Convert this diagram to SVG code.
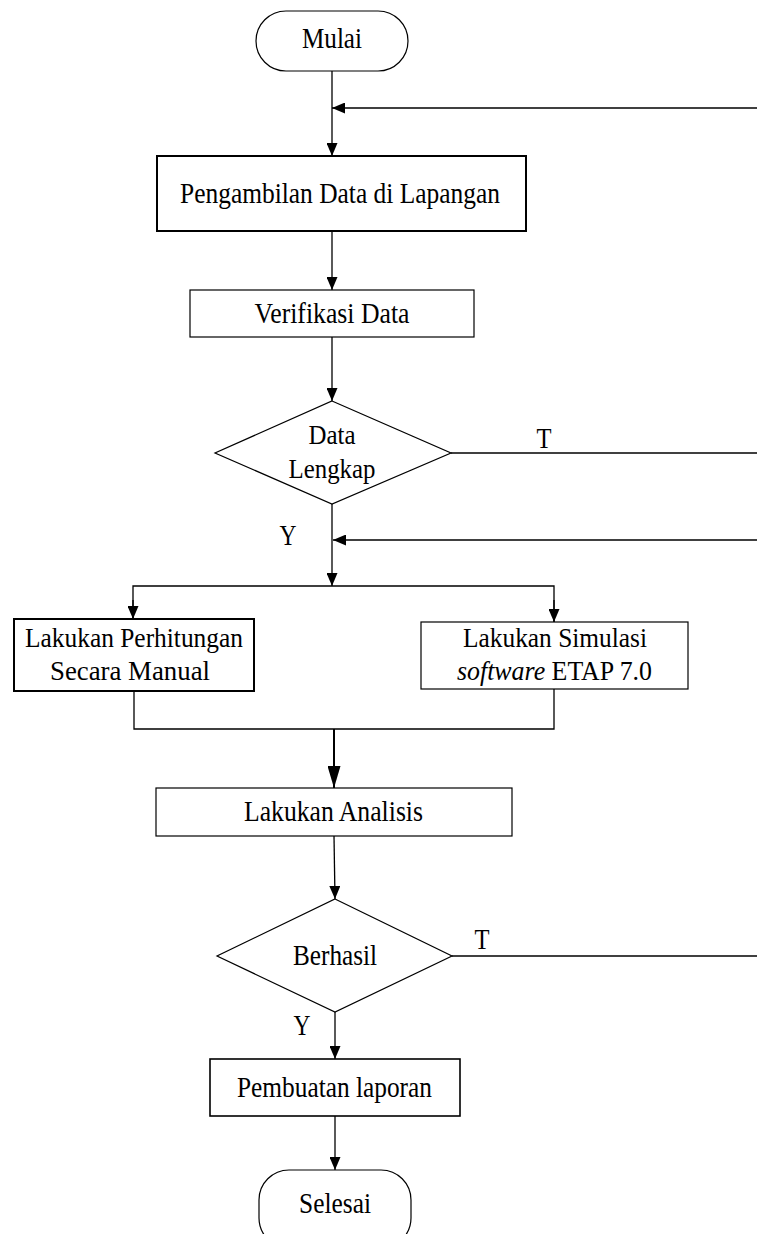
<svg xmlns="http://www.w3.org/2000/svg" width="757" height="1234" viewBox="0 0 757 1234">
<style>
.n{fill:#fff;stroke:#000;stroke-width:1.2}
.b{fill:#fff;stroke:#000;stroke-width:2}
.t{font-family:"Liberation Serif","Times New Roman",serif;font-size:29px;fill:#000;text-anchor:middle}
.s{font-size:28px}
.c{fill:none;stroke:#000;stroke-width:1.3}
.a{marker-end:url(#ar)}
</style>
<defs>
<marker id="ar" markerUnits="userSpaceOnUse" markerWidth="13" markerHeight="11" refX="13" refY="5.5" orient="auto">
<path d="M0,0 L13,5.5 L0,11 z" fill="#000"/>
</marker>
<marker id="ar2" markerUnits="userSpaceOnUse" markerWidth="22" markerHeight="13" refX="22" refY="6.5" orient="auto">
<path d="M0,0 L22,6.5 L0,13 z" fill="#000"/>
</marker>
</defs>
<g id="connectors">
<line class="c a" x1="332" y1="71" x2="332" y2="156"/>
<line class="c a" x1="757" y1="108" x2="332" y2="108"/>
<line class="c a" x1="332" y1="231" x2="332" y2="290"/>
<line class="c a" x1="332" y1="337" x2="332" y2="401"/>
<line class="c" x1="451" y1="453" x2="757" y2="453"/>
<line class="c a" x1="332" y1="504" x2="332" y2="586"/>
<line class="c a" x1="757" y1="540" x2="333" y2="540"/>
<polyline class="c" points="133,619 133,586 554,586 554,622"/>
<line class="c a" x1="133" y1="600" x2="133" y2="619"/>
<line class="c a" x1="554" y1="600" x2="554" y2="622"/>
<polyline class="c" points="134,691 134,729 554,729 554,689"/>
<line x1="334" y1="729" x2="334" y2="788" stroke="#000" stroke-width="2" marker-end="url(#ar2)"/>
<line class="c a" x1="334" y1="836" x2="335" y2="899"/>
<line class="c" x1="452" y1="956" x2="757" y2="956"/>
<line class="c a" x1="335" y1="1012" x2="335" y2="1059"/>
<line class="c a" x1="335" y1="1116" x2="335" y2="1170"/>
<text class="t" x="544" y="448" textLength="15" lengthAdjust="spacingAndGlyphs">T</text>
<text class="t" x="288" y="545" textLength="17" lengthAdjust="spacingAndGlyphs">Y</text>
<text class="t" x="482" y="949" textLength="15" lengthAdjust="spacingAndGlyphs">T</text>
<text class="t" x="302" y="1035" textLength="17" lengthAdjust="spacingAndGlyphs">Y</text>
</g>
<g id="mulai">
<rect class="n" x="256" y="11" width="152" height="60" rx="30"/>
<text class="t" x="332" y="48" textLength="60" lengthAdjust="spacingAndGlyphs">Mulai</text>
</g>
<g id="pengambilan">
<rect class="b" x="157" y="156" width="369" height="75"/>
<text class="t" x="340" y="203" style="font-size:30px" textLength="320" lengthAdjust="spacingAndGlyphs">Pengambilan Data di Lapangan</text>
</g>
<g id="verifikasi">
<rect class="n" x="190" y="290" width="284" height="47"/>
<text class="t" x="332" y="323" textLength="155" lengthAdjust="spacingAndGlyphs">Verifikasi Data</text>
</g>
<g id="data-lengkap">
<polygon class="n" points="332,401 451,453 332,504 215,453"/>
<text class="t s" x="332" y="444" textLength="47" lengthAdjust="spacingAndGlyphs">Data</text>
<text class="t s" x="332" y="478" textLength="87" lengthAdjust="spacingAndGlyphs">Lengkap</text>
</g>
<g id="manual">
<rect class="b" x="14" y="619" width="240" height="72"/>
<text class="t s" x="134" y="647" textLength="218" lengthAdjust="spacingAndGlyphs">Lakukan Perhitungan</text>
<text class="t s" x="130" y="680" textLength="160" lengthAdjust="spacingAndGlyphs">Secara Manual</text>
</g>
<g id="simulasi">
<rect class="n" x="421" y="622" width="267" height="67"/>
<text class="t s" x="555" y="647" textLength="184" lengthAdjust="spacingAndGlyphs">Lakukan Simulasi</text>
<text class="t s" x="554.5" y="680" textLength="195" lengthAdjust="spacingAndGlyphs"><tspan font-style="italic">software</tspan> ETAP 7.0</text>
</g>
<g id="analisis">
<rect class="n" x="156" y="788" width="356" height="48"/>
<text class="t" x="333.5" y="821" textLength="179" lengthAdjust="spacingAndGlyphs">Lakukan Analisis</text>
</g>
<g id="berhasil">
<polygon class="n" points="335,899 452,956 335,1012 217,956"/>
<text class="t" x="335" y="965" textLength="84" lengthAdjust="spacingAndGlyphs">Berhasil</text>
</g>
<g id="laporan">
<rect class="b" x="210" y="1059" width="250" height="57" style="stroke-width:1.6"/>
<text class="t" x="334.5" y="1097" textLength="195" lengthAdjust="spacingAndGlyphs">Pembuatan laporan</text>
</g>
<g id="selesai">
<rect class="n" x="259" y="1170" width="152" height="78" rx="30"/>
<text class="t" x="335" y="1213" textLength="72" lengthAdjust="spacingAndGlyphs">Selesai</text>
</g>
</svg>
